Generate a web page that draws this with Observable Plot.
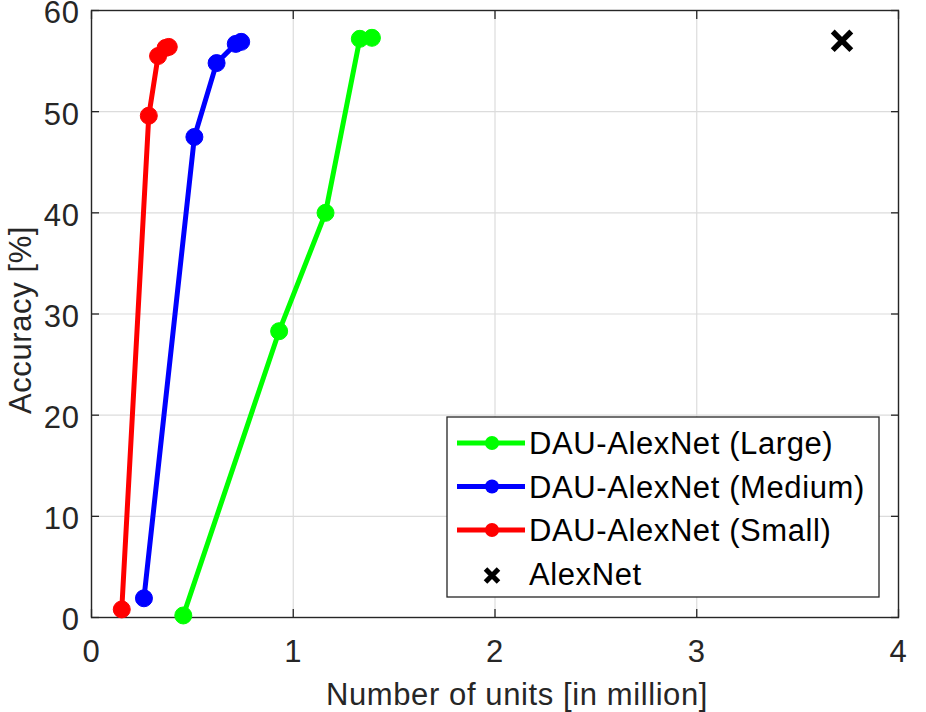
<!DOCTYPE html>
<html>
<head>
<meta charset="utf-8">
<script src="https://cdn.jsdelivr.net/npm/d3@7"></script>
<script src="https://cdn.jsdelivr.net/npm/@observablehq/plot@0.6"></script>
<style>
  html, body { margin: 0; padding: 0; background: #fff; }
  #chart { position: relative; width: 926px; height: 712px; }
  #legend { position: absolute; left: 0; top: 0; }
  text { letter-spacing: 0.6px; }
</style>
</head>
<body>
<div id="chart"></div>
<script>
// ---- data ----
const seriesNames = ["DAU-AlexNet (Large)", "DAU-AlexNet (Medium)", "DAU-AlexNet (Small)"];
const seriesColors = ["#00ff00", "#0000ff", "#ff0000"];
const largeUnits = [0.455, 0.93, 1.16, 1.33, 1.39];
const largeAcc = [0.2, 28.3, 40.0, 57.2, 57.3];
const mediumUnits = [0.26, 0.51, 0.62, 0.715, 0.742];
const mediumAcc = [1.9, 47.5, 54.8, 56.7, 56.9];
const smallUnits = [0.15, 0.284, 0.33, 0.367, 0.383];
const smallAcc = [0.8, 49.6, 55.5, 56.3, 56.4];
const alexName = "AlexNet";
const alexUnits = [3.72];
const alexAcc = [57.0];
const xTicks = [0, 1, 2, 3, 4];
const yTicks = [0, 10, 20, 30, 40, 50, 60];
const xLabel = "Number of units [in million]";
const yLabel = "Accuracy [%]";

// ---- build table ----
const seriesUnits = [largeUnits, mediumUnits, smallUnits];
const seriesAcc = [largeAcc, mediumAcc, smallAcc];
const rows = [];
seriesNames.forEach((name, i) => {
  seriesUnits[i].forEach((u, j) => rows.push({series: name, units: u, acc: seriesAcc[i][j]}));
});
const alexRows = alexUnits.map((u, i) => ({units: u, acc: alexAcc[i]}));

const axisColor = "#262626";
const font = "'Liberation Sans', Arial, Helvetica, sans-serif";
const fs = 31;

const chart = Plot.plot({
  width: 926,
  height: 712,
  marginLeft: 91,
  marginRight: 28,
  marginTop: 10,
  marginBottom: 95,
  style: {fontFamily: font, fontSize: fs + "px", background: "#fff", color: axisColor, overflow: "visible"},
  x: {domain: [0, 4], ticks: xTicks, tickFormat: d3.format("d"), label: null},
  y: {domain: [0, 60], ticks: yTicks, tickFormat: d3.format("d"), label: null},
  color: {domain: seriesNames, range: seriesColors},
  marks: [
    Plot.gridX(xTicks, {stroke: "#dcdcdc", strokeOpacity: 1, strokeWidth: 1.2}),
    Plot.gridY(yTicks, {stroke: "#dcdcdc", strokeOpacity: 1, strokeWidth: 1.2}),
    Plot.axisX(xTicks, {anchor: "bottom", tickSize: -8, fill: "none", stroke: axisColor, strokeWidth: 1.3, label: null}),
    Plot.axisX(xTicks, {anchor: "top", tickSize: -8, fill: "none", stroke: axisColor, strokeWidth: 1.3, label: null}),
    Plot.axisY(yTicks, {anchor: "left", tickSize: -8, fill: "none", stroke: axisColor, strokeWidth: 1.3, label: null}),
    Plot.axisY(yTicks, {anchor: "right", tickSize: -8, fill: "none", stroke: axisColor, strokeWidth: 1.3, label: null}),
    Plot.axisX(xTicks, {anchor: "bottom", tickSize: 0, tickPadding: 22, fill: axisColor, label: null, tickFormat: d3.format("d")}),
    Plot.axisY(yTicks, {anchor: "left", tickSize: 0, tickPadding: 12, dy: 3, fill: axisColor, label: null, tickFormat: d3.format("d")}),
    Plot.text([xLabel], {frameAnchor: "bottom", text: d => d, textAnchor: "middle", lineAnchor: "top",
      dy: 65, dx: 22, fill: axisColor, fontSize: fs}),
    Plot.text([yLabel], {frameAnchor: "left", text: d => d, textAnchor: "middle", lineAnchor: "top", rotate: -90,
      dx: -83, dy: 6, fill: axisColor, fontSize: fs}),
    Plot.frame({stroke: axisColor, strokeWidth: 1.4}),
    Plot.line(rows, {x: "units", y: "acc", stroke: "series", z: "series", strokeWidth: 5, strokeLinejoin: "round"}),
    Plot.dot(rows, {x: "units", y: "acc", fill: "series", stroke: "series", r: 8.5, strokeWidth: 1}),
    Plot.dot(alexRows, {x: "units", y: "acc", symbol: "times", r: 8.5, stroke: "#000", strokeWidth: 5.5})
  ]
});
const container = document.getElementById("chart");
container.appendChild(chart);

// ---- legend (overlay) ----
const legendItems = seriesNames.map((n, i) => ({label: n, color: seriesColors[i], kind: "line"}))
  .concat([{label: alexName, color: "#000", kind: "x"}]);
const lg = d3.select(container).append("svg")
  .attr("id", "legend").attr("width", 926).attr("height", 712)
  .style("font-family", font).style("font-size", fs + "px");
const box = {x: 447, y: 417, w: 432, h: 180};
lg.append("rect").attr("x", box.x).attr("y", box.y).attr("width", box.w).attr("height", box.h)
  .attr("fill", "#fff").attr("stroke", axisColor).attr("stroke-width", 1.3);
const rowY = i => box.y + 26 + i * 43.5;
legendItems.forEach((d, i) => {
  const g = lg.append("g").attr("transform", `translate(0,${rowY(i)})`);
  if (d.kind === "line") {
    g.append("line").attr("x1", 457).attr("x2", 525).attr("y1", 0).attr("y2", 0)
      .attr("stroke", d.color).attr("stroke-width", 5);
    g.append("circle").attr("cx", 492).attr("cy", 0).attr("r", 7).attr("fill", d.color);
  } else {
    const s = 6.5;
    g.append("path").attr("d", `M${492 - s},${2 - s}L${492 + s},${2 + s}M${492 - s},${2 + s}L${492 + s},${2 - s}`)
      .attr("stroke", "#000").attr("stroke-width", 5);
  }
  g.append("text").attr("x", 529).attr("y", 0).attr("dy", "0.36em").attr("fill", "#000")
    .text(d.label);
});
</script>
</body>
</html>
